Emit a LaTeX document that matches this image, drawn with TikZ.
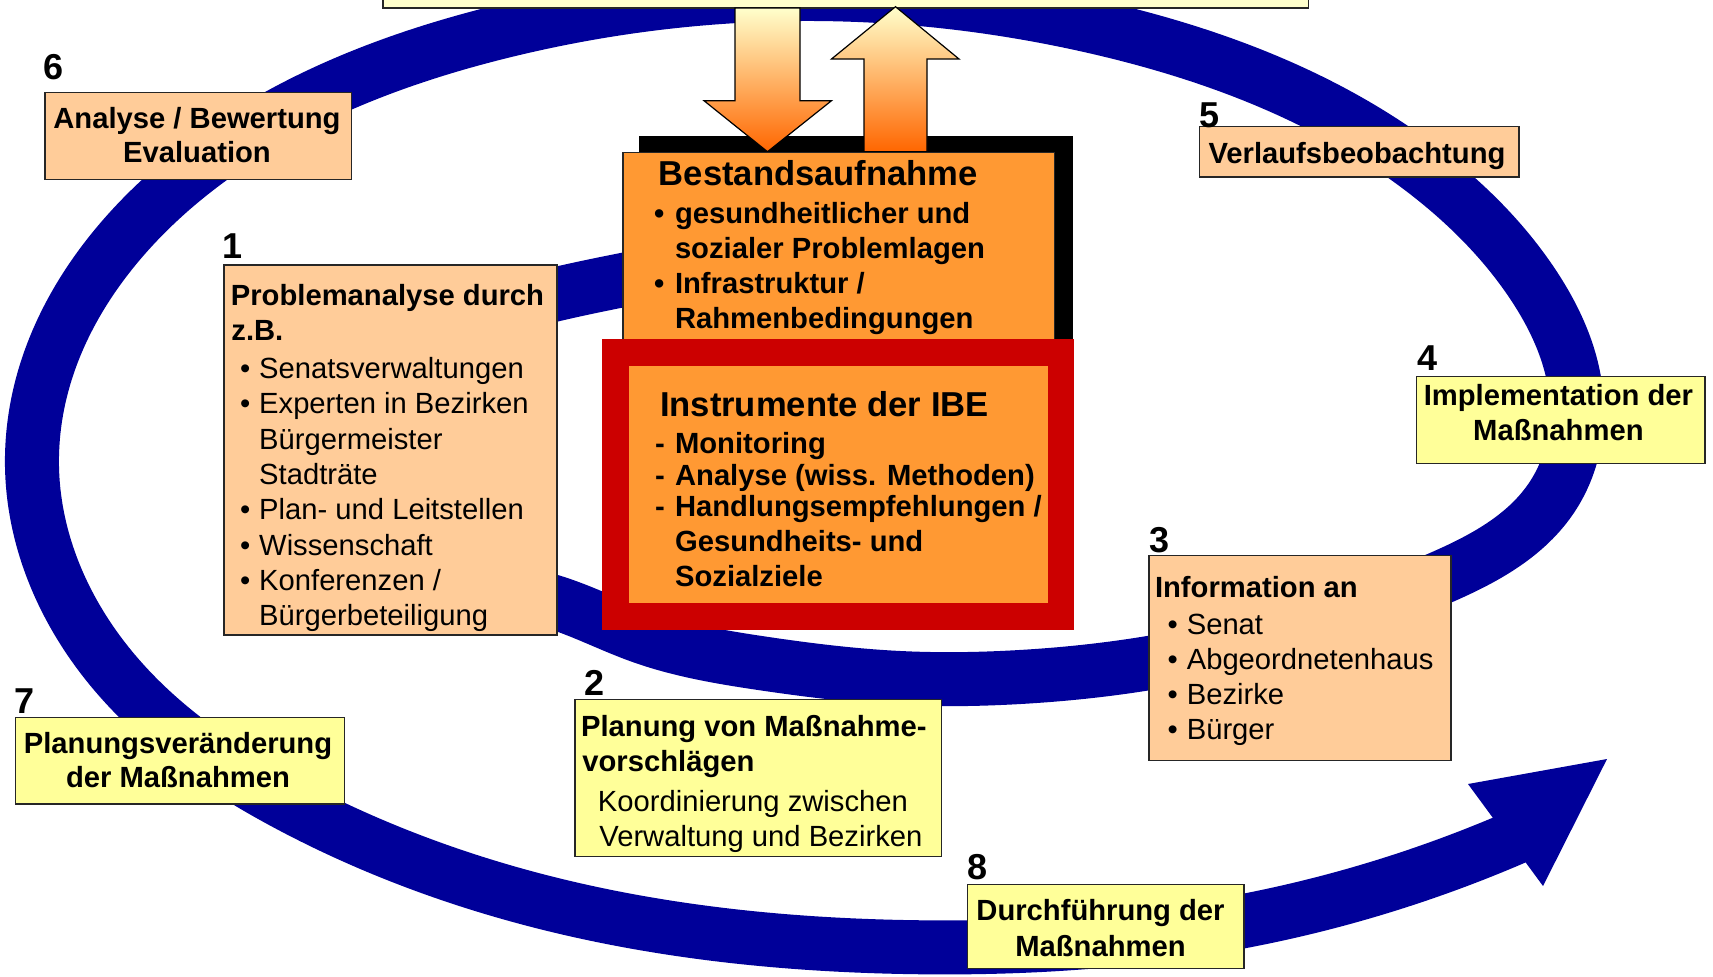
\documentclass[tikz,border=0pt]{standalone}
\usepackage{fontspec}
\setmainfont{Liberation Sans}
\usetikzlibrary{fit,hobby}
\definecolor{peach}{HTML}{FFCC99}
\definecolor{lemon}{HTML}{FFFF99}
\definecolor{cream}{HTML}{FFFFCC}
\definecolor{orng}{HTML}{FF9933}
\definecolor{redb}{HTML}{CC0000}
\definecolor{navy}{HTML}{000099}
\definecolor{arrowor}{HTML}{FF6600}
\newcommand{\bulw}[2]{\makebox[#1][l]{#2}}
\tikzset{
  box/.style={draw=black!85, line width=0.75pt, inner sep=0pt},
  peachbox/.style={box, fill=peach},
  yellowbox/.style={box, fill=lemon},
  txt/.style={inner sep=0pt, anchor=base west, font=\fontsize{14.6}{17}\selectfont},
  btxt/.style={txt, font=\fontsize{14.6}{17}\selectfont\bfseries},
  ctxt/.style={inner sep=0pt, anchor=base, font=\fontsize{14.6}{17}\selectfont\bfseries},
  ttl/.style={inner sep=0pt, anchor=base west, font=\fontsize{17.3}{20}\selectfont\bfseries},
  num/.style={inner sep=0pt, anchor=base west, font=\fontsize{18}{20}\selectfont\bfseries},
  band/.style={draw=navy, line width=27pt},
  bigarrow/.style={draw=black, line width=0.6pt, top color=cream, bottom color=arrowor},
}
\begin{document}
\begin{tikzpicture}[x=0.5pt,y=-0.5pt]
\useasboundingbox (0,0) rectangle (1713,976);
\clip (0,0) rectangle (1713,976);
\fill[white] (0,0) rectangle (1713,976);

% spiral band
\draw[band, use Hobby shortcut]
  (720,262) .. (623,280) .. (557,294) .. (470,328) .. (422,392) .. (414,462)
  .. (442,535) .. (495,582) .. (557,603) .. (640,636) .. (760,663) .. (900,678)
  .. (1020,677) .. (1149,663) .. (1300,628) .. (1440,578) .. (1550,500)
  .. (1577,410) .. (1532,283) .. (1432,177) .. (1100,28) .. (800,-6)
  .. (500,32) .. (184,179) .. (32,456) .. (110,667) .. (287,804)
  .. (559,906) .. (904,947) .. (1244,921) .. (1530,831);
\coordinate (tip) at (1607,759);
\coordinate (hc1) at (1468,784);
\coordinate (hc2) at (1543,886);
\fill[navy] (tip) -- (hc1) -- (hc2) -- cycle;

% top box
\node[box, fill=cream, fit={(383,-30) (1308.5,8)}] (topbox) {};

% central block
\node[inner sep=0pt, fill=black, fit={(639,136) (1073,339)}] (shadow) {};
\path[bigarrow] (735,8) -- (800,8) -- (800,100.7) -- (831.5,100.7) -- (767.5,151.7)
  -- (704,100.7) -- (735,100.7) -- cycle;
\path[bigarrow] (895.5,6.7) -- (959,59) -- (927,59) -- (927,151.7) -- (864,151.7)
  -- (864,59) -- (831.5,59) -- cycle;
\node[box, fill=orng, fit={(623,152.7) (1054.7,345)}] (bestand) {};
\node[inner sep=0pt, fill=redb, fit={(601.7,339) (1074.4,630)}] (redbox) {};
\node[inner sep=0pt, fill=orng, fit={(628.5,366) (1048.3,603.3)}] (ibe) {};

\node[ttl] (bt) at (658.4,185) {Bestandsaufnahme};
\node[btxt] (bl1) at (653.6,223.3) {\bulw{10.5pt}{•}gesundheitlicher und};
\node[btxt] (bl2) at (653.6,258.3) {\bulw{10.5pt}{}sozialer Problemlagen};
\node[btxt] (bl3) at (653.6,293.3) {\bulw{10.5pt}{•}Infrastruktur /};
\node[btxt] (bl4) at (653.6,328.3) {\bulw{10.5pt}{}Rahmenbedingungen};

\node[ttl] (it) at (659.6,416.7) {Instrumente der IBE};
\node[btxt] (il1) at (654.7,453.3) {\bulw{10pt}{-}Monitoring};
\node[btxt] (il2) at (654.7,485) {\bulw{10pt}{-}Analyse (wiss. Methoden)};
\node[btxt] (il3) at (654.7,516.7) {\bulw{10pt}{-}Handlungsempfehlungen /};
\node[btxt] (il4) at (654.7,551.7) {\bulw{10pt}{}Gesundheits- und};
\node[btxt] (il5) at (654.7,586.7) {\bulw{10pt}{}Sozialziele};

% box 6
\node[peachbox, fit={(44.8,92.7) (351.3,179.3)}] (b6) {};
\node[num] (n6) at (43.3,79.3) {6};
\node[ctxt] (b6a) at (197,128.3) {Analyse / Bewertung};
\node[ctxt] (b6b) at (197,162.7) {Evaluation};

% box 1
\node[peachbox, fit={(223.9,265) (556.8,635)}] (b1) {};
\node[num] (n1) at (221.8,258) {1};
\node[btxt] (b1a) at (230.5,305) {Problemanalyse durch};
\node[btxt] (b1b) at (231,340.7) {z.B.};
\node[txt] (b1c) at (239.6,378.3) {\bulw{9.6pt}{•}Senatsverwaltungen};
\node[txt] (b1d) at (239.6,413.2) {\bulw{9.6pt}{•}Experten in Bezirken};
\node[txt] (b1e) at (239.6,449.3) {\bulw{9.6pt}{}Bürgermeister};
\node[txt] (b1f) at (239.6,484.2) {\bulw{9.6pt}{}Stadträte};
\node[txt] (b1g) at (239.6,519.2) {\bulw{9.6pt}{•}Plan- und Leitstellen};
\node[txt] (b1h) at (239.6,555.3) {\bulw{9.6pt}{•}Wissenschaft};
\node[txt] (b1i) at (239.6,590.2) {\bulw{9.6pt}{•}Konferenzen /};
\node[txt] (b1j) at (239.6,625.2) {\bulw{9.6pt}{}Bürgerbeteiligung};

% box 7
\node[yellowbox, fit={(15.5,717.7) (344.4,804)}] (b7) {};
\node[num] (n7) at (14.2,713) {7};
\node[ctxt] (b7a) at (178,753.3) {Planungsveränderung};
\node[ctxt] (b7b) at (178,787.3) {der Maßnahmen};

% box 2
\node[yellowbox, fit={(575.2,699.3) (941.7,856.7)}] (b2) {};
\node[num] (n2) at (584.5,695) {2};
\node[btxt] (b2a) at (580.7,736.7) {Planung von Maßnahme-};
\node[btxt] (b2b) at (582,771.7) {vorschlägen};
\node[txt] (b2c) at (597.5,811.7) {Koordinierung zwischen};
\node[txt] (b2d) at (599,846.7) {Verwaltung und Bezirken};

% box 3
\node[peachbox, fit={(1148.9,555.3) (1451.2,760.7)}] (b3) {};
\node[num] (n3) at (1148.7,552.7) {3};
\node[btxt] (b3a) at (1154.6,597.3) {Information an};
\node[txt] (b3b) at (1167.2,634) {\bulw{9.6pt}{•}Senat};
\node[txt] (b3c) at (1167.2,669.5) {\bulw{9.6pt}{•}Abgeordnetenhaus};
\node[txt] (b3d) at (1167.2,704.5) {\bulw{9.6pt}{•}Bezirke};
\node[txt] (b3e) at (1167.2,739.5) {\bulw{9.6pt}{•}Bürger};

% box 8
\node[yellowbox, fit={(967.4,884.3) (1243.8,968.3)}] (b8) {};
\node[num] (n8) at (967,879) {8};
\node[ctxt] (b8a) at (1100.5,920.7) {Durchführung der};
\node[ctxt] (b8b) at (1100.5,956.7) {Maßnahmen};

% box 5
\node[peachbox, fit={(1199.7,126.7) (1519,177)}] (b5) {};
\node[num] (n5) at (1199,127.7) {5};
\node[ctxt] (b5a) at (1357,163.3) {Verlaufsbeobachtung};

% box 4
\node[yellowbox, fit={(1416.3,376.7) (1705.2,463.3)}] (b4) {};
\node[num] (n4) at (1417,370) {4};
\node[ctxt] (b4a) at (1558.4,405) {Implementation der};
\node[ctxt] (b4b) at (1558.4,440) {Maßnahmen};
\end{tikzpicture}
\end{document}
